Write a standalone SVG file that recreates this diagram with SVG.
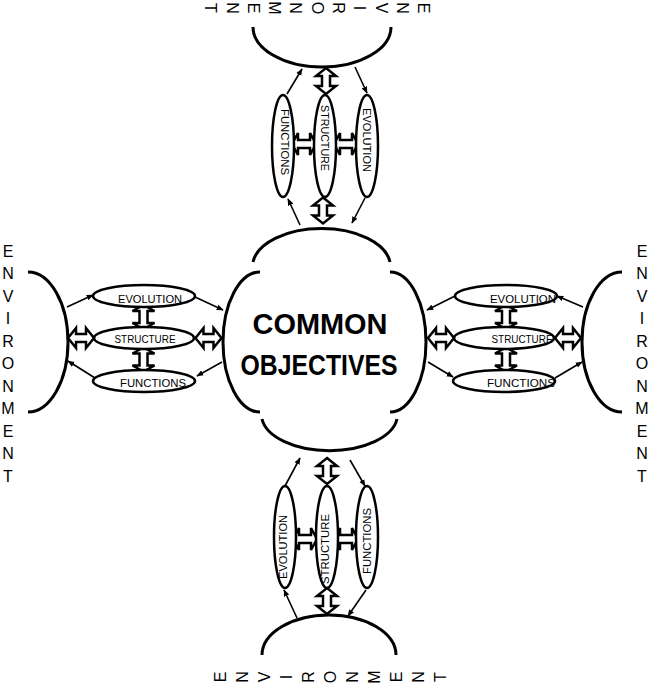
<svg xmlns="http://www.w3.org/2000/svg" xmlns:xlink="http://www.w3.org/1999/xlink" width="654" height="685" viewBox="0 0 654 685">
<style>
.env{fill:none;stroke:#000;stroke-width:3}
.blob{fill:none;stroke:#000;stroke-width:3}
.ell{fill:#fff;stroke:#000;stroke-width:2.5}
.lbl{font-family:"Liberation Sans",Arial,sans-serif;font-size:11px;fill:#000;text-anchor:middle}
.let{font-family:"Liberation Sans",Arial,sans-serif;font-size:16px;fill:#000;text-anchor:middle}
.big{font-family:"Liberation Sans",Arial,sans-serif;font-size:29px;font-weight:bold;fill:#000;text-anchor:middle}
.thin{fill:none;stroke:#000;stroke-width:1.6;marker-end:url(#ah)}
.fat{fill:#fff;stroke:#000;stroke-width:2.5;stroke-linejoin:miter}
</style>
<defs>
<marker id="ah" viewBox="0 0 10 10" refX="9" refY="5" markerWidth="7" markerHeight="7" orient="auto" markerUnits="userSpaceOnUse"><path d="M0,1 L10,5 L0,9 z" fill="#000"/></marker>
<polygon id="fatA" points="-13,0 -5,-10 -5,-4 5,-4 5,-10 13,0 5,10 5,4 -5,4 -5,10"/>
<polygon id="smallA" points="-12,0 -6,-11 -6,-4 6,-4 6,-11 12,0 6,11 6,4 -6,4 -6,11"/>
</defs>

<g id="connectors">
<!-- thin arrows top -->
<path class="thin" d="M287,94 L302,69"/>
<path class="thin" d="M355,67 L367,93"/>
<path class="thin" d="M300,225 L288,199"/>
<path class="thin" d="M365,198 L352,223"/>
<!-- bottom -->
<path class="thin" d="M285,486 L300,458"/>
<path class="thin" d="M350,460 L365,486"/>
<path class="thin" d="M297,618 L284,590"/>
<path class="thin" d="M366,590 L348,616"/>
<!-- left -->
<path class="thin" d="M67,307 L93,295"/>
<path class="thin" d="M195,297 L223,310"/>
<path class="thin" d="M222,362 L197,376"/>
<path class="thin" d="M95,378 L68,361"/>
<!-- right -->
<path class="thin" d="M583,307 L557,296"/>
<path class="thin" d="M455,296 L427,310"/>
<path class="thin" d="M428,362 L453,377"/>
<path class="thin" d="M555,378 L582,362"/>
<!-- fat double arrows -->
<use xlink:href="#fatA" class="fat" transform="translate(326,81) rotate(90)"/>
<use xlink:href="#fatA" class="fat" transform="translate(323,210.5) rotate(90)"/>
<use xlink:href="#fatA" class="fat" transform="translate(327,471) rotate(90)"/>
<use xlink:href="#fatA" class="fat" transform="translate(327,601) rotate(90)"/>
<use xlink:href="#fatA" class="fat" transform="translate(81,338)"/>
<use xlink:href="#fatA" class="fat" transform="translate(208.5,338)"/>
<use xlink:href="#fatA" class="fat" transform="translate(441,338)"/>
<use xlink:href="#fatA" class="fat" transform="translate(568,338)"/>
<!-- small double arrows between ellipses -->
<use xlink:href="#smallA" class="fat" transform="translate(304,144)"/>
<use xlink:href="#smallA" class="fat" transform="translate(346,144)"/>
<use xlink:href="#smallA" class="fat" transform="translate(305,539)"/>
<use xlink:href="#smallA" class="fat" transform="translate(346,539)"/>
<use xlink:href="#smallA" class="fat" transform="translate(143.5,317) rotate(90)"/>
<use xlink:href="#smallA" class="fat" transform="translate(143.5,359.5) rotate(90)"/>
<use xlink:href="#smallA" class="fat" transform="translate(506,317) rotate(90)"/>
<use xlink:href="#smallA" class="fat" transform="translate(506,359.5) rotate(90)"/>
</g>

<g id="objectives">
<path class="blob" d="M253,262 A 69 38 0 0 1 390 262"/>
<path class="blob" d="M260,272 A 37 70 0 0 0 260 412"/>
<path class="blob" d="M390,272 A 36 70 0 0 1 390 412"/>
<path class="blob" d="M262,419 A 68 36 0 0 0 397 419"/>
<text class="big" x="320" y="334" textLength="135" lengthAdjust="spacingAndGlyphs">COMMON</text>
<text class="big" x="319" y="375" textLength="157" lengthAdjust="spacingAndGlyphs">OBJECTIVES</text>
</g>

<g id="env-top">
<path class="env" d="M253,27 A 69 40 0 0 0 391 27"/>
<g class="let">
<text transform="translate(211,8) rotate(90)" y="5.7">T</text>
<text transform="translate(232.3,8) rotate(90)" y="5.7">N</text>
<text transform="translate(253.6,8) rotate(90)" y="5.7">E</text>
<text transform="translate(274.9,8) rotate(90)" y="5.7">M</text>
<text transform="translate(296.2,8) rotate(90)" y="5.7">N</text>
<text transform="translate(317.5,8) rotate(90)" y="5.7">O</text>
<text transform="translate(338.8,8) rotate(90)" y="5.7">R</text>
<text transform="translate(360.1,8) rotate(90)" y="5.7">I</text>
<text transform="translate(381.4,8) rotate(90)" y="5.7">V</text>
<text transform="translate(402.7,8) rotate(90)" y="5.7">N</text>
<text transform="translate(424,8) rotate(90)" y="5.7">E</text>
</g>
</g>

<g id="env-bottom">
<path class="env" d="M262,655 A 67 40 0 0 1 396 655"/>
<g class="let">
<text transform="translate(220,677) rotate(-90)" y="5.7">E</text>
<text transform="translate(242,677) rotate(-90)" y="5.7">N</text>
<text transform="translate(264,677) rotate(-90)" y="5.7">V</text>
<text transform="translate(286,677) rotate(-90)" y="5.7">I</text>
<text transform="translate(308,677) rotate(-90)" y="5.7">R</text>
<text transform="translate(330,677) rotate(-90)" y="5.7">O</text>
<text transform="translate(352,677) rotate(-90)" y="5.7">N</text>
<text transform="translate(374,677) rotate(-90)" y="5.7">M</text>
<text transform="translate(396,677) rotate(-90)" y="5.7">E</text>
<text transform="translate(418,677) rotate(-90)" y="5.7">N</text>
<text transform="translate(440,677) rotate(-90)" y="5.7">T</text>
</g>
</g>

<g id="env-left">
<path class="env" d="M28,272 A 40 70 0 0 1 28 412"/>
<g class="let">
<text x="8" y="256.7">E</text>
<text x="8" y="279.2">N</text>
<text x="8" y="301.7">V</text>
<text x="8" y="324.2">I</text>
<text x="8" y="346.7">R</text>
<text x="8" y="369.2">O</text>
<text x="8" y="391.7">N</text>
<text x="8" y="414.2">M</text>
<text x="8" y="436.7">E</text>
<text x="8" y="459.2">N</text>
<text x="8" y="481.7">T</text>
</g>
</g>

<g id="env-right">
<path class="env" d="M622,272 A 40 70 0 0 0 622 412"/>
<g class="let">
<text x="642" y="256.7">E</text>
<text x="642" y="279.2">N</text>
<text x="642" y="301.7">V</text>
<text x="642" y="324.2">I</text>
<text x="642" y="346.7">R</text>
<text x="642" y="369.2">O</text>
<text x="642" y="391.7">N</text>
<text x="642" y="414.2">M</text>
<text x="642" y="436.7">E</text>
<text x="642" y="459.2">N</text>
<text x="642" y="481.7">T</text>
</g>
</g>

<g id="top-functions"><ellipse class="ell" cx="283" cy="146" rx="11" ry="51"/><text class="lbl" transform="translate(285,142) rotate(90)" y="4" textLength="66" lengthAdjust="spacingAndGlyphs">FUNCTIONS</text></g>
<g id="top-structure"><ellipse class="ell" cx="325" cy="146" rx="11" ry="51"/><text class="lbl" transform="translate(325,138) rotate(90)" y="4" textLength="66" lengthAdjust="spacingAndGlyphs">STRUCTURE</text></g>
<g id="top-evolution"><ellipse class="ell" cx="367" cy="146" rx="11" ry="51"/><text class="lbl" transform="translate(367,140) rotate(90)" y="4" textLength="64" lengthAdjust="spacingAndGlyphs">EVOLUTION</text></g>

<g id="bottom-evolution"><ellipse class="ell" cx="285" cy="537" rx="11" ry="51"/><text class="lbl" transform="translate(283,547) rotate(-90)" y="4" textLength="64" lengthAdjust="spacingAndGlyphs">EVOLUTION</text></g>
<g id="bottom-structure"><ellipse class="ell" cx="327" cy="537" rx="11" ry="51"/><text class="lbl" transform="translate(325,549) rotate(-90)" y="4" textLength="70" lengthAdjust="spacingAndGlyphs">STRUCTURE</text></g>
<g id="bottom-functions"><ellipse class="ell" cx="367" cy="537" rx="11" ry="51"/><text class="lbl" transform="translate(367,541) rotate(-90)" y="4" textLength="66" lengthAdjust="spacingAndGlyphs">FUNCTIONS</text></g>

<g id="left-evolution"><ellipse class="ell" cx="144" cy="296" rx="51" ry="11"/><text class="lbl" x="150" y="303" textLength="64" lengthAdjust="spacingAndGlyphs">EVOLUTION</text></g>
<g id="left-structure"><ellipse class="ell" cx="144" cy="338" rx="50" ry="11"/><text class="lbl" x="145" y="343" textLength="61" lengthAdjust="spacingAndGlyphs">STRUCTURE</text></g>
<g id="left-functions"><ellipse class="ell" cx="144" cy="381" rx="51" ry="11"/><text class="lbl" x="153" y="387" textLength="66" lengthAdjust="spacingAndGlyphs">FUNCTIONS</text></g>

<g id="right-evolution"><ellipse class="ell" cx="506" cy="296" rx="51" ry="11"/><text class="lbl" x="523" y="303" textLength="66" lengthAdjust="spacingAndGlyphs">EVOLUTION</text></g>
<g id="right-structure"><ellipse class="ell" cx="504" cy="338" rx="50" ry="11"/><text class="lbl" x="522" y="343" textLength="61" lengthAdjust="spacingAndGlyphs">STRUCTURE</text></g>
<g id="right-functions"><ellipse class="ell" cx="504" cy="381" rx="51" ry="11"/><text class="lbl" x="521" y="387" textLength="68" lengthAdjust="spacingAndGlyphs">FUNCTIONS</text></g>
</svg>
